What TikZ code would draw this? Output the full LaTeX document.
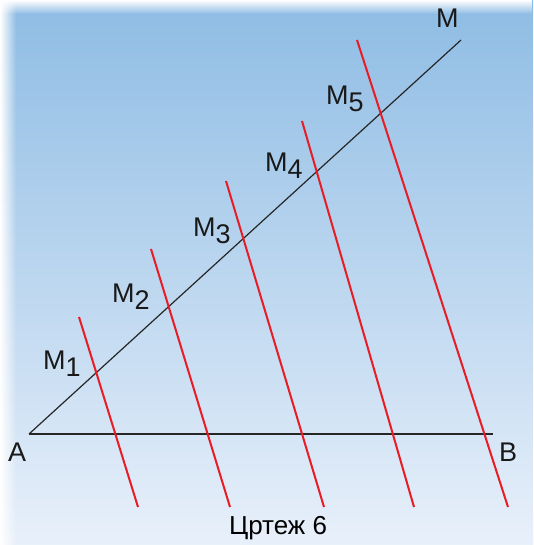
\documentclass[tikz,border=0pt]{standalone}
\usepackage{fontspec}
\setmainfont{Liberation Sans}
\usetikzlibrary{calc,fadings}
\definecolor{skytop}{RGB}{142,188,228}
\definecolor{skybot}{RGB}{232,240,250}
\definecolor{linered}{RGB}{232,28,36}
\newcommand{\msub}[1]{M\raisebox{-7pt}{#1}}

\begin{document}
\begin{tikzpicture}[x=1pt, y=1pt,
    seg/.style={draw=black!85, line width=1.2pt},
    par/.style={draw=linered, line width=2pt},
    lbl/.style={font=\fontsize{27}{27}\selectfont, inner sep=0pt, anchor=base west, text=black!90}]

  % background
  \useasboundingbox (0,0) rectangle (533,545);
  \shade[top color=skytop, bottom color=skybot] (0,0) rectangle (533,545);
  \fill[white, path fading=east] (0,0) rectangle (16,545);
  \fill[white, path fading=south] (0,531) rectangle (533,545);

  % triangle sides
  \coordinate (A) at (29,111);
  \coordinate (B) at (493,111);
  \coordinate (M) at (461,505);
  \draw[seg] (A) -- (M);
  \draw[seg] (A) -- (B);

  % parallel lines
  \foreach \i/\xt/\yt/\xb in {1/79/228/138, 2/151/296/230, 3/226/364/324, 4/302/424/414, 5/357/505/508} {
    \coordinate (t\i) at (\xt,\yt);
    \coordinate (b\i) at (\xb,38);
    \draw[par] (t\i) -- (b\i);
  }

  % labels
  \node[lbl] (lA) at (8,83) {A};
  \node[lbl] (lB) at (499,83) {B};
  \node[lbl] (lM) at (436,517) {M};
  \node[lbl] (lM1) at (43,175) {\msub{1}};
  \node[lbl] (lM2) at (112,242) {\msub{2}};
  \node[lbl] (lM3) at (193,308) {\msub{3}};
  \node[lbl] (lM4) at (265,373) {\msub{4}};
  \node[lbl] (lM5) at (326,440) {\msub{5}};
  \node[font=\fontsize{26}{26}\selectfont, inner sep=0pt, anchor=base] (cap) at (278,10) {Цртеж 6};
\end{tikzpicture}
\end{document}
